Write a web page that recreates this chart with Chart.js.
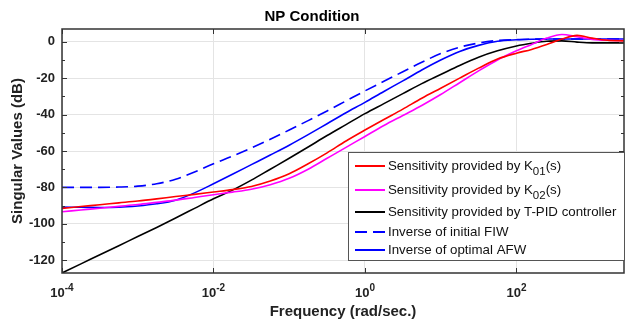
<!DOCTYPE html>
<html>
<head>
<meta charset="utf-8">
<script src="https://cdn.jsdelivr.net/npm/chart.js@4.4.1/dist/chart.umd.min.js"></script>
<style>
  html, body { margin: 0; padding: 0; background: #fff; }
  #wrap { width: 625px; height: 329px; }
</style>
</head>
<body>
<div id="wrap"><canvas id="chart"></canvas></div>
<script>
// frequency grid as powers of ten (rad/sec)
const freqExp = [-4, -3.75, -3.5, -3.25, -3, -2.75, -2.5, -2.25, -2, -1.75, -1.5, -1.25, -1, -0.75, -0.5, -0.25,
  0, 0.25, 0.5, 0.75, 1, 1.25, 1.5, 1.75, 2, 2.2, 2.4, 2.6, 2.8, 3, 3.2, 3.42];
const frequencies = freqExp.map(e => Math.pow(10, e));

// singular values (dB)
const sensK01 = [-91.5, -90.5, -89.5, -88.5, -87.5, -86.3, -85, -83.8, -82.5, -81.2, -79.5, -76.5, -72.5, -67, -61, -54.5,
  -48.5, -42.7, -37, -31, -25.5, -20, -14.5, -9.5, -6.3, -4.2, -1.5, 1.5, 3.5, 2, 0.8, 0.5];
const sensK02 = [-93.4, -92.4, -91.4, -90.4, -89.4, -88.2, -87, -85.5, -84, -82.6, -81, -78.5, -75, -70, -64, -58,
  -52, -46, -40.5, -35, -29, -22.5, -16, -10, -5, -1.5, 2, 4, 2.7, 1.3, 0.8, 0.7];
const sensTPID = [-127, -122, -117, -112, -107, -102, -96.8, -91.5, -86.2, -81.5, -76, -70, -64, -57.8, -51.5, -45.5,
  -39.5, -34, -28.5, -23, -18, -13, -8.5, -5, -2.3, -0.8, 0.3, 0.5, -0.2, -0.6, -0.6, -0.6];
const invInitialFIW = [-80, -80, -80, -79.8, -79.3, -78, -75.5, -71.5, -67, -62.8, -58.3, -53.5, -48.5, -43.3, -38, -32.5,
  -27, -21.7, -16.5, -11.3, -6.5, -3, -0.7, 0.7, 1.2, 1.4, 1.5, 1.5, 1.5, 1.5, 1.5, 1.5];
const invOptimalAFW = [-90.8, -90.9, -91, -90.9, -90.2, -89, -87, -83, -78, -72.8, -67.5, -62.2, -56.8, -51, -45, -39,
  -33.3, -27.3, -21.5, -15.5, -10, -5.3, -2, 0.3, 1.1, 1.4, 1.5, 1.5, 1.5, 1.5, 1.5, 1.5];

const seriesLabels = [
  'Sensitivity provided by K_{01}(s)',
  'Sensitivity provided by K_{02}(s)',
  'Sensitivity provided by T-PID controller',
  'Inverse of initial FIW',
  'Inverse of optimal AFW'
];

const xTicks = [1e-4, 1e-2, 1, 100];
const xTickExps = ['-4', '-2', '0', '2'];
const yTicks = [-120, -100, -80, -60, -40, -20, 0];
const yMinorTicks = [-110, -90, -70, -50, -30, -10];

const FONT = '"Liberation Sans", Arial, Helvetica, sans-serif';
const AXIS = '#333333';

function pts(vals) {
  return frequencies.map((f, i) => ({ x: f, y: vals[i] }));
}

// inward ticks + box + 10^n labels, MATLAB style
const framePlugin = {
  id: 'frame',
  afterDatasetsDraw(chart) {
    const { ctx, chartArea: a, scales } = chart;
    ctx.save();
    ctx.strokeStyle = AXIS;
    ctx.lineWidth = 1;
    ctx.beginPath();
    xTicks.forEach(v => {
      const x = Math.round(scales.x.getPixelForValue(v)) + 0.5;
      ctx.moveTo(x, a.bottom); ctx.lineTo(x, a.bottom - 5);
      ctx.moveTo(x, a.top); ctx.lineTo(x, a.top + 5);
    });
    yTicks.forEach(v => {
      const y = Math.round(scales.y.getPixelForValue(v)) + 0.5;
      ctx.moveTo(a.left, y); ctx.lineTo(a.left + 5, y);
      ctx.moveTo(a.right, y); ctx.lineTo(a.right - 5, y);
    });
    yMinorTicks.forEach(v => {
      const y = Math.round(scales.y.getPixelForValue(v)) + 0.5;
      ctx.moveTo(a.left, y); ctx.lineTo(a.left + 3, y);
      ctx.moveTo(a.right, y); ctx.lineTo(a.right - 3, y);
    });
    ctx.stroke();
    ctx.lineWidth = 1.5;
    ctx.strokeRect(a.left, a.top, a.right - a.left, a.bottom - a.top);

    // tick labels with superscript exponent
    ctx.fillStyle = '#222';
    ctx.textBaseline = 'alphabetic';
    xTicks.forEach((v, i) => {
      const x = scales.x.getPixelForValue(v);
      ctx.font = 'bold 13px ' + FONT;
      const wBase = ctx.measureText('10').width;
      ctx.font = 'bold 10px ' + FONT;
      const wExp = ctx.measureText(xTickExps[i]).width;
      const x0 = x - (wBase + wExp) / 2;
      ctx.font = 'bold 13px ' + FONT;
      ctx.fillText('10', x0, a.bottom + 24);
      ctx.font = 'bold 10px ' + FONT;
      ctx.fillText(xTickExps[i], x0 + wBase, a.bottom + 18);
    });
    ctx.restore();
  }
};

function drawRich(ctx, text, x, y) {
  const parts = text.split(/(_\{[^}]*\})/);
  parts.forEach(p => {
    if (!p) return;
    if (p.startsWith('_{')) {
      const s = p.slice(2, -1);
      ctx.font = '11.5px ' + FONT;
      ctx.fillText(s, x, y + 6);
      x += ctx.measureText(s).width;
    } else {
      ctx.font = '13.3px ' + FONT;
      ctx.fillText(p, x, y);
      x += ctx.measureText(p).width;
    }
  });
}

// legend drawn by hand so the subscripts come out right
const legendPlugin = {
  id: 'npLegend',
  afterDraw(chart) {
    const { ctx } = chart;
    const box = { left: 348, top: 152, right: 624, bottom: 260 };
    const rows = [166, 190, 212, 232, 250];
    ctx.save();
    ctx.fillStyle = '#fff';
    ctx.fillRect(box.left, box.top, box.right - box.left, box.bottom - box.top);
    ctx.strokeStyle = '#555';
    ctx.lineWidth = 1;
    ctx.strokeRect(box.left + 0.5, box.top + 0.5, box.right - box.left, box.bottom - box.top);
    chart.data.datasets.forEach((ds, i) => {
      const y = rows[i];
      ctx.strokeStyle = ds.borderColor;
      ctx.lineWidth = 2;
      ctx.setLineDash(ds.borderDash || []);
      ctx.beginPath();
      ctx.moveTo(355, y); ctx.lineTo(385, y);
      ctx.stroke();
      ctx.setLineDash([]);
      ctx.fillStyle = '#111';
      ctx.textBaseline = 'middle';
      drawRich(ctx, ds.label, 388, y);
    });
    ctx.restore();
  }
};

const colors = ['#ff0000', '#ff00ff', '#000000', '#0000ff', '#0000ff'];
const values = [sensK01, sensK02, sensTPID, invInitialFIW, invOptimalAFW];

new Chart(document.getElementById('chart'), {
  type: 'line',
  data: {
    datasets: values.map((v, i) => ({
      label: seriesLabels[i],
      data: pts(v),
      borderColor: colors[i],
      borderWidth: 1.6,
      borderDash: i === 3 ? [12, 6] : undefined,
      pointRadius: 0,
      cubicInterpolationMode: 'monotone',
      fill: false
    }))
  },
  options: {
    responsive: true,
    maintainAspectRatio: false,
    animation: false,
    layout: { padding: { right: 1 } },
    plugins: {
      legend: { display: false },
      tooltip: { enabled: false },
      title: {
        display: true,
        text: 'NP Condition',
        color: '#000',
        font: { family: FONT, size: 15, weight: 'bold' },
        padding: { top: 8, bottom: 3 }
      }
    },
    scales: {
      x: {
        type: 'logarithmic',
        min: 1e-4,
        max: Math.pow(10, 3.42),
        afterBuildTicks: s => { s.ticks = xTicks.map(v => ({ value: v })); },
        afterFit: s => { s.height = 56; },
        border: { display: false },
        grid: { color: '#e4e4e4', drawTicks: false },
        ticks: { display: false },
        title: {
          display: true,
          text: 'Frequency (rad/sec.)',
          color: '#222',
          font: { family: FONT, size: 15, weight: 'bold' },
          padding: { top: 0, bottom: 8 }
        }
      },
      y: {
        min: -127,
        max: 7,
        afterBuildTicks: s => { s.ticks = yTicks.map(v => ({ value: v })); },
        afterFit: s => { s.width = 62; },
        border: { display: false },
        grid: { color: '#e4e4e4', drawTicks: false },
        ticks: {
          padding: 7,
          color: '#222',
          font: { family: FONT, size: 13, weight: 'bold' }
        },
        title: {
          display: true,
          text: 'Singular Values (dB)',
          color: '#222',
          font: { family: FONT, size: 15, weight: 'bold' },
          padding: { top: 9, bottom: 0 }
        }
      }
    }
  },
  plugins: [framePlugin, legendPlugin]
});
</script>
</body>
</html>
